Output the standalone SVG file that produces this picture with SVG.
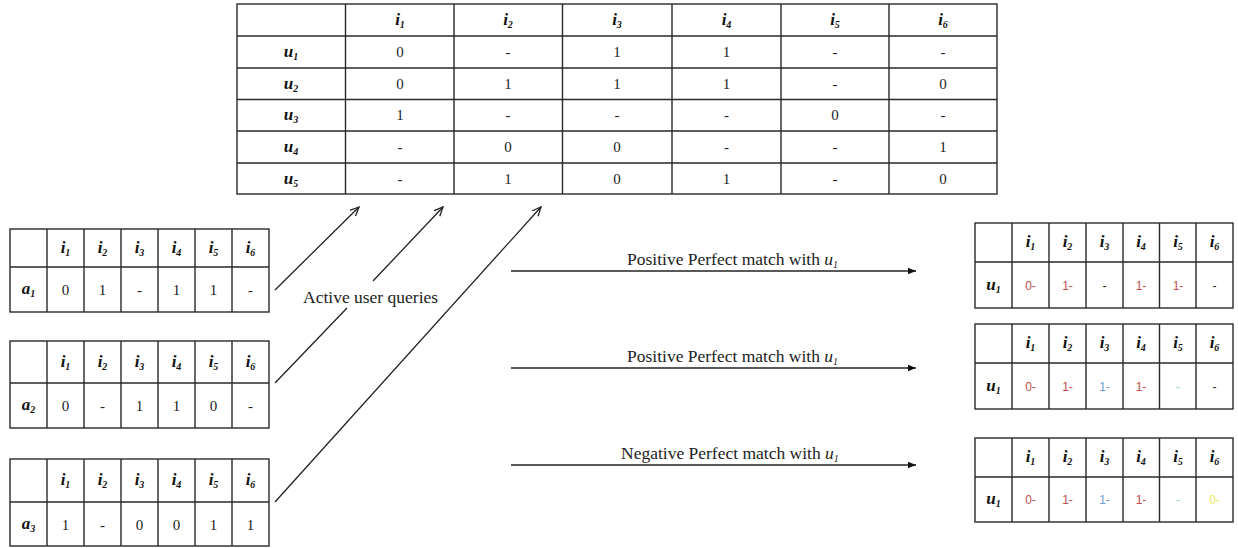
<svg xmlns="http://www.w3.org/2000/svg" width="1238" height="548" viewBox="0 0 1238 548">
<style>
.grid{fill:none;stroke:#2a2a2a;stroke-width:1.4}
.h{font-family:"Liberation Serif",serif;font-size:17px;font-weight:bold;font-style:italic;text-anchor:middle;fill:#111}
.h tspan{font-size:10px}
.v{font-family:"Liberation Serif",serif;font-size:15px;text-anchor:middle;fill:#222}
.rv{font-family:"Liberation Sans",sans-serif;font-size:12px;text-anchor:middle;fill:#222}
.red{fill:#c0504d}.blue{fill:#6f9bc8}.teal{fill:#8fcfbf}.yel{fill:#eeea50}
.lbl{font-family:"Liberation Serif",serif;font-size:17.5px;fill:#222}
.conn{stroke:#222;stroke-width:1.3;fill:none}
</style>
<defs>
<marker id="open" viewBox="0 0 10 10" refX="9" refY="5" markerWidth="10" markerHeight="10" orient="auto" markerUnits="userSpaceOnUse"><path d="M0,1 L9,5 L0,9" fill="none" stroke="#222" stroke-width="1.3"/></marker>
<marker id="solid" viewBox="0 0 10 10" refX="10" refY="5" markerWidth="9" markerHeight="8" orient="auto" markerUnits="userSpaceOnUse"><path d="M0,1 L10,5 L0,9 z" fill="#111"/></marker>
</defs>
<rect width="1238" height="548" fill="#fff"/>

<g id="table-users">
<rect class="grid" x="237" y="4" width="760" height="190"/>
<path class="grid" d="M345.5,4V194M454,4V194M562.5,4V194M672,4V194M781,4V194M889,4V194M237,36H997M237,68H997M237,99.5H997M237,131H997M237,163H997"/>
<g class="h">
<text x="400" y="25">i<tspan dy="3">1</tspan></text>
<text x="508" y="25">i<tspan dy="3">2</tspan></text>
<text x="617" y="25">i<tspan dy="3">3</tspan></text>
<text x="726.5" y="25">i<tspan dy="3">4</tspan></text>
<text x="835" y="25">i<tspan dy="3">5</tspan></text>
<text x="943" y="25">i<tspan dy="3">6</tspan></text>
<text x="291" y="57">u<tspan dy="3">1</tspan></text>
<text x="291" y="89">u<tspan dy="3">2</tspan></text>
<text x="291" y="120">u<tspan dy="3">3</tspan></text>
<text x="291" y="152">u<tspan dy="3">4</tspan></text>
<text x="291" y="184">u<tspan dy="3">5</tspan></text>
</g>
<g class="v">
<text x="400" y="57">0</text><text x="508" y="57">-</text><text x="617" y="57">1</text><text x="726.5" y="57">1</text><text x="835" y="57">-</text><text x="943" y="57">-</text>
<text x="400" y="89">0</text><text x="508" y="89">1</text><text x="617" y="89">1</text><text x="726.5" y="89">1</text><text x="835" y="89">-</text><text x="943" y="89">0</text>
<text x="400" y="120">1</text><text x="508" y="120">-</text><text x="617" y="120">-</text><text x="726.5" y="120">-</text><text x="835" y="120">0</text><text x="943" y="120">-</text>
<text x="400" y="152">-</text><text x="508" y="152">0</text><text x="617" y="152">0</text><text x="726.5" y="152">-</text><text x="835" y="152">-</text><text x="943" y="152">1</text>
<text x="400" y="184">-</text><text x="508" y="184">1</text><text x="617" y="184">0</text><text x="726.5" y="184">1</text><text x="835" y="184">-</text><text x="943" y="184">0</text>
</g>
</g>

<g id="query-a1">
<rect class="grid" x="10" y="229" width="259" height="83"/>
<path class="grid" d="M47,229V312M84,229V312M121,229V312M158,229V312M195,229V312M232,229V312M10,267H269"/>
<g class="h">
<text x="65.5" y="253">i<tspan dy="3">1</tspan></text>
<text x="102.5" y="253">i<tspan dy="3">2</tspan></text>
<text x="139.5" y="253">i<tspan dy="3">3</tspan></text>
<text x="176.5" y="253">i<tspan dy="3">4</tspan></text>
<text x="213.5" y="253">i<tspan dy="3">5</tspan></text>
<text x="250.5" y="253">i<tspan dy="3">6</tspan></text>
<text x="28.5" y="294">a<tspan dy="3">1</tspan></text>
</g>
<g class="v">
<text x="65.5" y="295">0</text><text x="102.5" y="295">1</text><text x="139.5" y="295">-</text><text x="176.5" y="295">1</text><text x="213.5" y="295">1</text><text x="250.5" y="295">-</text>
</g>
</g>

<g id="query-a2">
<rect class="grid" x="10" y="341" width="259" height="87"/>
<path class="grid" d="M47,341V428M84,341V428M121,341V428M158,341V428M195,341V428M232,341V428M10,383H269"/>
<g class="h">
<text x="65.5" y="367">i<tspan dy="3">1</tspan></text>
<text x="102.5" y="367">i<tspan dy="3">2</tspan></text>
<text x="139.5" y="367">i<tspan dy="3">3</tspan></text>
<text x="176.5" y="367">i<tspan dy="3">4</tspan></text>
<text x="213.5" y="367">i<tspan dy="3">5</tspan></text>
<text x="250.5" y="367">i<tspan dy="3">6</tspan></text>
<text x="28.5" y="410">a<tspan dy="3">2</tspan></text>
</g>
<g class="v">
<text x="65.5" y="411">0</text><text x="102.5" y="411">-</text><text x="139.5" y="411">1</text><text x="176.5" y="411">1</text><text x="213.5" y="411">0</text><text x="250.5" y="411">-</text>
</g>
</g>

<g id="query-a3">
<rect class="grid" x="10" y="459" width="259" height="87"/>
<path class="grid" d="M47,459V546M84,459V546M121,459V546M158,459V546M195,459V546M232,459V546M10,502H269"/>
<g class="h">
<text x="65.5" y="485">i<tspan dy="3">1</tspan></text>
<text x="102.5" y="485">i<tspan dy="3">2</tspan></text>
<text x="139.5" y="485">i<tspan dy="3">3</tspan></text>
<text x="176.5" y="485">i<tspan dy="3">4</tspan></text>
<text x="213.5" y="485">i<tspan dy="3">5</tspan></text>
<text x="250.5" y="485">i<tspan dy="3">6</tspan></text>
<text x="28.5" y="529">a<tspan dy="3">3</tspan></text>
</g>
<g class="v">
<text x="65.5" y="530">1</text><text x="102.5" y="530">-</text><text x="139.5" y="530">0</text><text x="176.5" y="530">0</text><text x="213.5" y="530">1</text><text x="250.5" y="530">1</text>
</g>
</g>

<g id="result-1">
<rect class="grid" x="975" y="223" width="258" height="85"/>
<path class="grid" d="M1012,223V308M1049,223V308M1086,223V308M1123,223V308M1159.5,223V308M1196,223V308M975,262H1233"/>
<g class="h">
<text x="1030.5" y="247">i<tspan dy="3">1</tspan></text>
<text x="1067.5" y="247">i<tspan dy="3">2</tspan></text>
<text x="1104.5" y="247">i<tspan dy="3">3</tspan></text>
<text x="1141" y="247">i<tspan dy="3">4</tspan></text>
<text x="1178" y="247">i<tspan dy="3">5</tspan></text>
<text x="1214.5" y="247">i<tspan dy="3">6</tspan></text>
<text x="993.5" y="290">u<tspan dy="3">1</tspan></text>
</g>
<g class="rv">
<text class="red" x="1030.5" y="290">0-</text><text class="red" x="1067.5" y="290">1-</text><text x="1104.5" y="290">-</text><text class="red" x="1141" y="290">1-</text><text class="red" x="1178" y="290">1-</text><text x="1214.5" y="290">-</text>
</g>
</g>

<g id="result-2">
<rect class="grid" x="975" y="324" width="258" height="85"/>
<path class="grid" d="M1012,324V409M1049,324V409M1086,324V409M1123,324V409M1159.5,324V409M1196,324V409M975,363H1233"/>
<g class="h">
<text x="1030.5" y="348">i<tspan dy="3">1</tspan></text>
<text x="1067.5" y="348">i<tspan dy="3">2</tspan></text>
<text x="1104.5" y="348">i<tspan dy="3">3</tspan></text>
<text x="1141" y="348">i<tspan dy="3">4</tspan></text>
<text x="1178" y="348">i<tspan dy="3">5</tspan></text>
<text x="1214.5" y="348">i<tspan dy="3">6</tspan></text>
<text x="993.5" y="391">u<tspan dy="3">1</tspan></text>
</g>
<g class="rv">
<text class="red" x="1030.5" y="391">0-</text><text class="red" x="1067.5" y="391">1-</text><text class="blue" x="1104.5" y="391">1-</text><text class="red" x="1141" y="391">1-</text><text class="teal" x="1178" y="391">-</text><text x="1214.5" y="391">-</text>
</g>
</g>

<g id="result-3">
<rect class="grid" x="975" y="438" width="258" height="84"/>
<path class="grid" d="M1012,438V522M1049,438V522M1086,438V522M1123,438V522M1159.5,438V522M1196,438V522M975,477H1233"/>
<g class="h">
<text x="1030.5" y="462">i<tspan dy="3">1</tspan></text>
<text x="1067.5" y="462">i<tspan dy="3">2</tspan></text>
<text x="1104.5" y="462">i<tspan dy="3">3</tspan></text>
<text x="1141" y="462">i<tspan dy="3">4</tspan></text>
<text x="1178" y="462">i<tspan dy="3">5</tspan></text>
<text x="1214.5" y="462">i<tspan dy="3">6</tspan></text>
<text x="993.5" y="504">u<tspan dy="3">1</tspan></text>
</g>
<g class="rv">
<text class="red" x="1030.5" y="504">0-</text><text class="red" x="1067.5" y="504">1-</text><text class="blue" x="1104.5" y="504">1-</text><text class="red" x="1141" y="504">1-</text><text class="teal" x="1178" y="504">-</text><text class="yel" x="1214.5" y="504">0-</text>
</g>
</g>

<g id="connectors">
<path class="conn" d="M275,290 L359,207" marker-end="url(#open)"/>
<path class="conn" d="M275,383 L347,308 M373,281 L443,207" marker-end="url(#open)"/>
<path class="conn" d="M275,502 L541,207" marker-end="url(#open)"/>
<path class="conn" d="M511,271 H916" marker-end="url(#solid)"/>
<path class="conn" d="M511,368 H916" marker-end="url(#solid)"/>
<path class="conn" d="M511,465 H916" marker-end="url(#solid)"/>
</g>

<g id="labels" class="lbl">
<text x="303" y="303">Active user queries</text>
<text x="627" y="265">Positive Perfect match with <tspan font-style="italic">u</tspan><tspan font-style="italic" font-size="10" dy="3">1</tspan></text>
<text x="627" y="362">Positive Perfect match with <tspan font-style="italic">u</tspan><tspan font-style="italic" font-size="10" dy="3">1</tspan></text>
<text x="621" y="459">Negative Perfect match with <tspan font-style="italic">u</tspan><tspan font-style="italic" font-size="10" dy="3">1</tspan></text>
</g>
</svg>
